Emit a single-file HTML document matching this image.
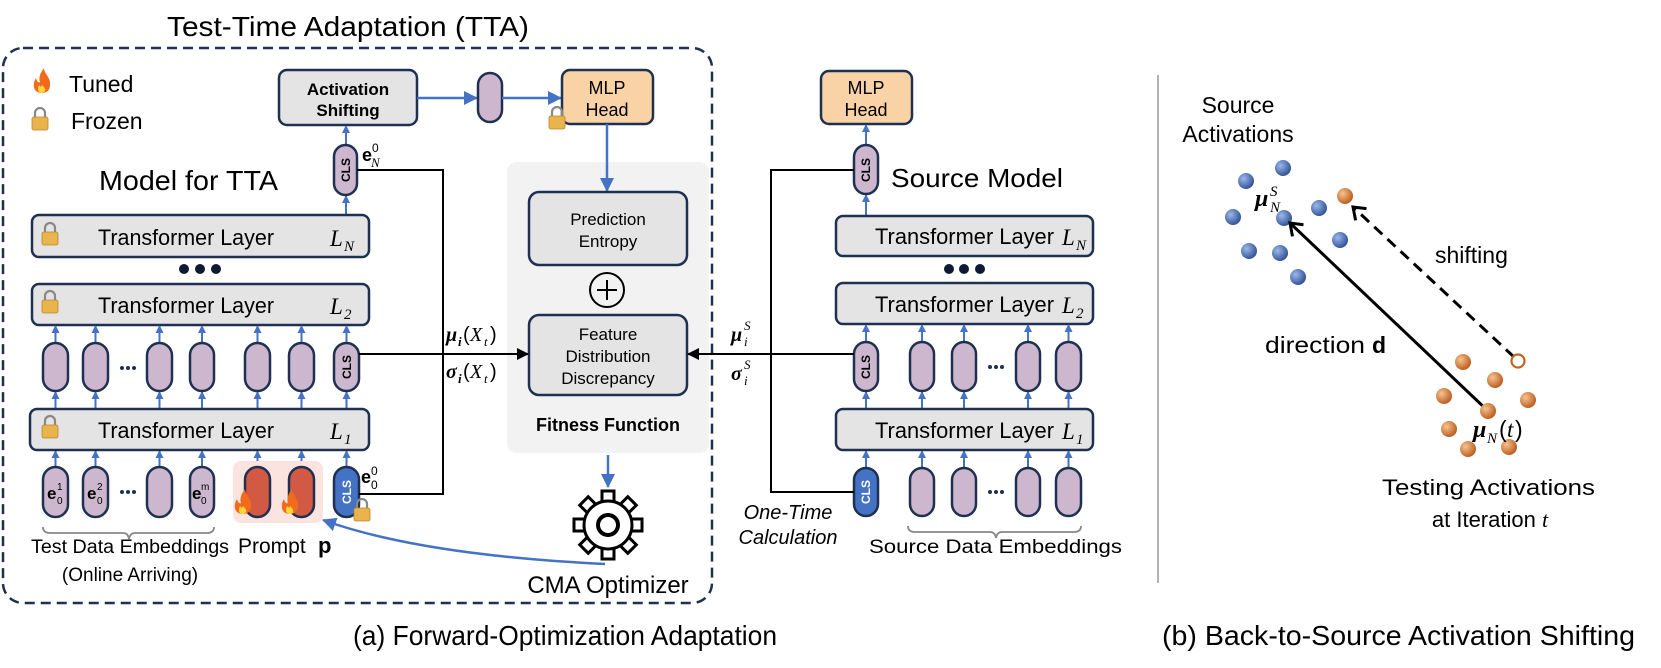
<!DOCTYPE html>
<html><head><meta charset="utf-8"><style>
html,body{margin:0;padding:0;background:#fff;}
svg{display:block;}
text{font-family:"Liberation Sans",sans-serif;fill:#000;}
.m{font-family:"Liberation Serif",serif;font-style:italic;}
.mb{font-family:"Liberation Serif",serif;font-style:italic;font-weight:bold;}
</style></head><body>
<svg width="1661" height="668" viewBox="0 0 1661 668" xmlns="http://www.w3.org/2000/svg">
<defs>
<marker id="ab" markerWidth="8" markerHeight="8" refX="7" refY="4" orient="auto" markerUnits="userSpaceOnUse"><path d="M0,0 L8,4 L0,8 z" fill="#4472c4"/></marker>
<marker id="abl" markerWidth="14" markerHeight="14" refX="13" refY="7" orient="auto" markerUnits="userSpaceOnUse"><path d="M0,0 L14,7 L0,14 z" fill="#4472c4"/></marker>
<marker id="ak" markerWidth="12" markerHeight="12" refX="11" refY="6" orient="auto" markerUnits="userSpaceOnUse"><path d="M0,0 L12,6 L0,12 z" fill="#000"/></marker>
<marker id="av" markerWidth="16" markerHeight="18" refX="12" refY="9" orient="auto" markerUnits="userSpaceOnUse"><path d="M1,1 L12,9 L1,17" fill="none" stroke="#000" stroke-width="3"/></marker>
<g id="lock"><path d="M-5,-2 V-6 A5,5 0 0 1 5,-6 V-2" fill="none" stroke="#888" stroke-width="2.2"/><rect x="-8" y="-2" width="16" height="13" rx="2" fill="#e9b44c" stroke="#b8862a" stroke-width="0.8"/></g>
<g id="flame"><path d="M0,12 C-9,12 -10,3 -6,-3 C-5,1 -3,2 -2,1 C-4,-5 0,-10 2,-13 C2,-7 9,-4 8,4 C8,9 5,12 0,12 z" fill="#f26b1d"/><path d="M0,12 C-4,12 -5,8 -3,4 C-2,6 0,6 0,4 C2,6 4,8 3,10 C2,12 1,12 0,12z" fill="#ffd43b"/></g>
<radialGradient id="gb" cx="0.35" cy="0.35" r="0.7"><stop offset="0" stop-color="#9bb8ee"/><stop offset="1" stop-color="#2f4f8f"/></radialGradient>
<radialGradient id="go" cx="0.35" cy="0.35" r="0.7"><stop offset="0" stop-color="#f7c38f"/><stop offset="1" stop-color="#b85a1c"/></radialGradient>
</defs>

<text x="167" y="36" font-size="28" textLength="362" lengthAdjust="spacingAndGlyphs">Test-Time Adaptation (TTA)</text>

<rect x="507" y="162" width="202" height="291" rx="10" fill="#f2f2f2"/>
<rect x="3" y="48" width="709" height="555" rx="20" fill="none" stroke="#1f3050" stroke-width="2.5" stroke-dasharray="10,6"/>

<use href="#flame" x="42" y="81"/>
<text x="69" y="92" font-size="23">Tuned</text>
<use href="#lock" x="40" y="119"/>
<text x="71" y="129" font-size="23">Frozen</text>

<rect x="279" y="70" width="138" height="55" rx="8" fill="#e4e4e4" stroke="#1f3050" stroke-width="2.5"/>
<text x="348" y="95" font-size="17" font-weight="bold" text-anchor="middle">Activation</text>
<text x="348" y="116" font-size="17" font-weight="bold" text-anchor="middle">Shifting</text>
<line x1="417" y1="98" x2="477" y2="98" stroke="#4472c4" stroke-width="2.5" marker-end="url(#abl)"/>
<rect x="478" y="73" width="24" height="49" rx="12" fill="#cdb7cf" stroke="#1f3050" stroke-width="2.5"/>
<line x1="502" y1="98" x2="561" y2="98" stroke="#4472c4" stroke-width="2.5" marker-end="url(#abl)"/>
<rect x="562" y="70" width="91" height="54" rx="8" fill="#f9d2a5" stroke="#1f3050" stroke-width="2.5"/>
<text x="607" y="94" font-size="18" text-anchor="middle">MLP</text>
<text x="607" y="116" font-size="18" text-anchor="middle">Head</text>
<use href="#lock" x="557" y="118"/>
<line x1="607" y1="124" x2="607" y2="191" stroke="#4472c4" stroke-width="2.5" marker-end="url(#abl)"/>

<rect x="529" y="192" width="158" height="73" rx="10" fill="#e4e4e4" stroke="#1f3050" stroke-width="2.5"/>
<text x="608" y="225" font-size="17" text-anchor="middle">Prediction</text>
<text x="608" y="247" font-size="17" text-anchor="middle">Entropy</text>
<circle cx="607" cy="290" r="17" fill="none" stroke="#000" stroke-width="2"/>
<line x1="597" y1="290" x2="617" y2="290" stroke="#000" stroke-width="2"/><line x1="607" y1="280" x2="607" y2="300" stroke="#000" stroke-width="2"/>
<rect x="529" y="315" width="158" height="80" rx="10" fill="#e4e4e4" stroke="#1f3050" stroke-width="2.5"/>
<text x="608" y="340" font-size="17" text-anchor="middle">Feature</text>
<text x="608" y="362" font-size="17" text-anchor="middle">Distribution</text>
<text x="608" y="384" font-size="17" text-anchor="middle">Discrepancy</text>
<text x="608" y="431" font-size="18" font-weight="bold" text-anchor="middle">Fitness Function</text>
<line x1="608" y1="455" x2="608" y2="487" stroke="#4472c4" stroke-width="2.5" marker-end="url(#abl)"/>

<g transform="translate(608,525)">
<g fill="#fff" stroke="#000" stroke-width="3">
<rect x="-6" y="-34" width="12" height="14" transform="rotate(0)"/>
<rect x="-6" y="-34" width="12" height="14" transform="rotate(45)"/>
<rect x="-6" y="-34" width="12" height="14" transform="rotate(90)"/>
<rect x="-6" y="-34" width="12" height="14" transform="rotate(135)"/>
<rect x="-6" y="-34" width="12" height="14" transform="rotate(180)"/>
<rect x="-6" y="-34" width="12" height="14" transform="rotate(225)"/>
<rect x="-6" y="-34" width="12" height="14" transform="rotate(270)"/>
<rect x="-6" y="-34" width="12" height="14" transform="rotate(315)"/>
</g>
<circle r="24" fill="#fff" stroke="#000" stroke-width="3"/>
<circle r="10" fill="none" stroke="#000" stroke-width="4"/>
</g>
<text x="608" y="593" font-size="24" text-anchor="middle">CMA Optimizer</text>
<path d="M605,564 Q420,555 323,520" fill="none" stroke="#4472c4" stroke-width="2.5" marker-end="url(#abl)"/>

<text x="99" y="190" font-size="28" textLength="179" lengthAdjust="spacingAndGlyphs">Model for TTA</text>
<line x1="346" y1="215" x2="346" y2="196" stroke="#4472c4" stroke-width="2" marker-end="url(#ab)"/>
<line x1="346" y1="145" x2="346" y2="126" stroke="#4472c4" stroke-width="2" marker-end="url(#ab)"/>
<rect x="334" y="145" width="23" height="50" rx="11.5" fill="#cdb7cf" stroke="#1f3050" stroke-width="2.5"/>
<text x="0" y="0" font-size="12" font-weight="bold" text-anchor="middle" transform="translate(350,170) rotate(-90)">CLS</text>
<text x="362" y="161" font-family="Liberation Serif" font-weight="bold" font-size="18">e</text><text x="372" y="152" font-family="Liberation Serif" font-size="12">0</text><text x="371" y="167" class="m" font-size="13">N</text>

<rect x="32" y="215" width="337" height="42" rx="7" fill="#e4e4e4" stroke="#1f3050" stroke-width="2.5"/>
<use href="#lock" x="50" y="234"/>
<text x="98" y="245" font-size="22" textLength="176" lengthAdjust="spacingAndGlyphs">Transformer Layer</text>
<text x="330" y="246" class="m" font-size="23">L</text><text x="344" y="251" class="m" font-size="15">N</text>
<circle cx="184" cy="269" r="5" fill="#0d1a33"/><circle cx="200" cy="269" r="5" fill="#0d1a33"/><circle cx="216" cy="269" r="5" fill="#0d1a33"/>
<rect x="32" y="284" width="337" height="41" rx="7" fill="#e4e4e4" stroke="#1f3050" stroke-width="2.5"/>
<use href="#lock" x="50" y="302"/>
<text x="98" y="313" font-size="22" textLength="176" lengthAdjust="spacingAndGlyphs">Transformer Layer</text>
<text x="330" y="314" class="m" font-size="23">L</text><text x="344" y="319" class="m" font-size="15">2</text>

<g stroke="#4472c4" stroke-width="2">
<line x1="55.5" y1="343" x2="55.5" y2="326" marker-end="url(#ab)"/><line x1="95.5" y1="343" x2="95.5" y2="326" marker-end="url(#ab)"/><line x1="159.5" y1="343" x2="159.5" y2="326" marker-end="url(#ab)"/><line x1="202" y1="343" x2="202" y2="326" marker-end="url(#ab)"/><line x1="257.5" y1="343" x2="257.5" y2="326" marker-end="url(#ab)"/><line x1="301.5" y1="343" x2="301.5" y2="326" marker-end="url(#ab)"/><line x1="346.5" y1="343" x2="346.5" y2="326" marker-end="url(#ab)"/>
<line x1="55.5" y1="409" x2="55.5" y2="392" marker-end="url(#ab)"/><line x1="95.5" y1="409" x2="95.5" y2="392" marker-end="url(#ab)"/><line x1="159.5" y1="409" x2="159.5" y2="392" marker-end="url(#ab)"/><line x1="202" y1="409" x2="202" y2="392" marker-end="url(#ab)"/><line x1="257.5" y1="409" x2="257.5" y2="392" marker-end="url(#ab)"/><line x1="301.5" y1="409" x2="301.5" y2="392" marker-end="url(#ab)"/><line x1="346.5" y1="409" x2="346.5" y2="392" marker-end="url(#ab)"/>
<line x1="55.5" y1="467" x2="55.5" y2="451" marker-end="url(#ab)"/><line x1="95.5" y1="467" x2="95.5" y2="451" marker-end="url(#ab)"/><line x1="159.5" y1="467" x2="159.5" y2="451" marker-end="url(#ab)"/><line x1="202" y1="467" x2="202" y2="451" marker-end="url(#ab)"/><line x1="257.5" y1="467" x2="257.5" y2="451" marker-end="url(#ab)"/><line x1="301.5" y1="467" x2="301.5" y2="451" marker-end="url(#ab)"/><line x1="346.5" y1="467" x2="346.5" y2="451" marker-end="url(#ab)"/>
</g>
<g fill="#cdb7cf" stroke="#1f3050" stroke-width="2.5">
<rect x="43" y="343" width="25" height="48" rx="12.5"/><rect x="83" y="343" width="25" height="48" rx="12.5"/><rect x="147" y="343" width="25" height="48" rx="12.5"/><rect x="190" y="343" width="24" height="48" rx="12"/><rect x="245" y="343" width="25" height="48" rx="12.5"/><rect x="289" y="343" width="25" height="48" rx="12.5"/><rect x="334" y="343" width="25" height="48" rx="12.5"/>
</g>
<text x="0" y="0" font-size="12" font-weight="bold" text-anchor="middle" transform="translate(351,367) rotate(-90)">CLS</text>
<circle cx="122" cy="368" r="2" fill="#1f3050"/><circle cx="128" cy="368" r="2" fill="#1f3050"/><circle cx="134" cy="368" r="2" fill="#1f3050"/>

<rect x="30" y="409" width="339" height="41" rx="7" fill="#e4e4e4" stroke="#1f3050" stroke-width="2.5"/>
<use href="#lock" x="50" y="427"/>
<text x="98" y="438" font-size="22" textLength="176" lengthAdjust="spacingAndGlyphs">Transformer Layer</text>
<text x="330" y="439" class="m" font-size="23">L</text><text x="344" y="444" class="m" font-size="15">1</text>

<rect x="233" y="461" width="90" height="62" rx="8" fill="#fbe3e0"/>
<g fill="#cdb7cf" stroke="#1f3050" stroke-width="2.5">
<rect x="43" y="467" width="25" height="50" rx="12.5"/><rect x="83" y="467" width="25" height="50" rx="12.5"/><rect x="147" y="467" width="25" height="50" rx="12.5"/><rect x="190" y="467" width="24" height="50" rx="12"/>
</g>
<rect x="245" y="467" width="25" height="50" rx="12.5" fill="#d25a44" stroke="#1f3050" stroke-width="2.5"/>
<rect x="289" y="467" width="25" height="50" rx="12.5" fill="#d25a44" stroke="#1f3050" stroke-width="2.5"/>
<rect x="334" y="467" width="25" height="50" rx="12.5" fill="#4472c4" stroke="#1f3050" stroke-width="2.5"/>
<text x="0" y="0" font-size="12" font-weight="bold" style="fill:#fff" text-anchor="middle" transform="translate(351,492) rotate(-90)">CLS</text>
<use href="#flame" x="243" y="502"/><use href="#flame" x="290" y="502"/>
<use href="#lock" x="362" y="510"/>
<g font-family="Liberation Serif" font-weight="bold" font-size="17"><text x="47" y="499">e</text><text x="87" y="499">e</text><text x="192" y="499">e</text></g>
<g font-family="Liberation Serif" font-size="10"><text x="57" y="490">1</text><text x="57" y="504">0</text><text x="97" y="490">2</text><text x="97" y="504">0</text><text x="201" y="490">m</text><text x="201" y="504">0</text></g>
<circle cx="122" cy="492" r="2" fill="#1f3050"/><circle cx="128" cy="492" r="2" fill="#1f3050"/><circle cx="134" cy="492" r="2" fill="#1f3050"/>
<text x="361" y="483" font-family="Liberation Serif" font-weight="bold" font-size="18">e</text><text x="371" y="475" font-family="Liberation Serif" font-size="12">0</text><text x="371" y="489" font-family="Liberation Serif" font-size="12">0</text>

<path d="M43,527 Q43,533 50,533 L123,533 Q128,533 129,539 Q130,533 135,533 L207,533 Q214,533 214,527" fill="none" stroke="#888" stroke-width="1.8"/>
<text x="31" y="553" font-size="19" textLength="198" lengthAdjust="spacingAndGlyphs">Test Data Embeddings</text>
<text x="130" y="581" font-size="19" text-anchor="middle">(Online Arriving)</text>
<text x="238" y="553" font-size="21">Prompt</text><text x="318" y="553" font-family="Liberation Serif" font-weight="bold" font-size="22">p</text>

<polyline points="357,170 443,170 443,494 359,494" fill="none" stroke="#000" stroke-width="2"/>
<line x1="359" y1="354" x2="528" y2="354" stroke="#000" stroke-width="2" marker-end="url(#ak)"/>
<text x="446" y="341" class="mb" font-size="20">μ</text><text x="458" y="346" class="mb" font-size="13">i</text><text x="463" y="341" font-family="Liberation Serif" font-size="20">(</text><text x="470" y="341" class="m" font-size="20">X</text><text x="484" y="346" class="m" font-size="13">t</text><text x="490" y="341" font-family="Liberation Serif" font-size="20">)</text>
<text x="446" y="378" class="mb" font-size="20">σ</text><text x="458" y="383" class="mb" font-size="13">i</text><text x="463" y="378" font-family="Liberation Serif" font-size="20">(</text><text x="470" y="378" class="m" font-size="20">X</text><text x="484" y="383" class="m" font-size="13">t</text><text x="490" y="378" font-family="Liberation Serif" font-size="20">)</text>

<text x="353" y="645" font-size="28" textLength="424" lengthAdjust="spacingAndGlyphs">(a) Forward-Optimization Adaptation</text>

<rect x="821" y="71" width="91" height="53" rx="8" fill="#f9d2a5" stroke="#1f3050" stroke-width="2.5"/>
<text x="866" y="94" font-size="18" text-anchor="middle">MLP</text>
<text x="866" y="116" font-size="18" text-anchor="middle">Head</text>
<line x1="866" y1="145" x2="866" y2="125" stroke="#4472c4" stroke-width="2" marker-end="url(#ab)"/>
<line x1="866" y1="216" x2="866" y2="195" stroke="#4472c4" stroke-width="2" marker-end="url(#ab)"/>
<rect x="854" y="145" width="24" height="49" rx="12" fill="#cdb7cf" stroke="#1f3050" stroke-width="2.5"/>
<text x="0" y="0" font-size="12" font-weight="bold" text-anchor="middle" transform="translate(870,170) rotate(-90)">CLS</text>
<text x="891" y="187" font-size="26" textLength="172" lengthAdjust="spacingAndGlyphs">Source Model</text>
<rect x="836" y="216" width="257" height="40" rx="7" fill="#e4e4e4" stroke="#1f3050" stroke-width="2.5"/>
<text x="875" y="244" font-size="22" textLength="179" lengthAdjust="spacingAndGlyphs">Transformer Layer</text><text x="1062" y="245" class="m" font-size="23">L</text><text x="1076" y="250" class="m" font-size="15">N</text>
<circle cx="949" cy="269" r="5" fill="#0d1a33"/><circle cx="964" cy="269" r="5" fill="#0d1a33"/><circle cx="980" cy="269" r="5" fill="#0d1a33"/>
<rect x="836" y="283" width="257" height="41" rx="7" fill="#e4e4e4" stroke="#1f3050" stroke-width="2.5"/>
<text x="875" y="312" font-size="22" textLength="179" lengthAdjust="spacingAndGlyphs">Transformer Layer</text><text x="1062" y="313" class="m" font-size="23">L</text><text x="1076" y="318" class="m" font-size="15">2</text>
<g stroke="#4472c4" stroke-width="2">
<line x1="866" y1="342" x2="866" y2="325" marker-end="url(#ab)"/><line x1="922" y1="342" x2="922" y2="325" marker-end="url(#ab)"/><line x1="964" y1="342" x2="964" y2="325" marker-end="url(#ab)"/><line x1="1028" y1="342" x2="1028" y2="325" marker-end="url(#ab)"/><line x1="1068.5" y1="342" x2="1068.5" y2="325" marker-end="url(#ab)"/>
<line x1="866" y1="409" x2="866" y2="392" marker-end="url(#ab)"/><line x1="922" y1="409" x2="922" y2="392" marker-end="url(#ab)"/><line x1="964" y1="409" x2="964" y2="392" marker-end="url(#ab)"/><line x1="1028" y1="409" x2="1028" y2="392" marker-end="url(#ab)"/><line x1="1068.5" y1="409" x2="1068.5" y2="392" marker-end="url(#ab)"/>
<line x1="866" y1="468" x2="866" y2="451" marker-end="url(#ab)"/><line x1="922" y1="468" x2="922" y2="451" marker-end="url(#ab)"/><line x1="964" y1="468" x2="964" y2="451" marker-end="url(#ab)"/><line x1="1028" y1="468" x2="1028" y2="451" marker-end="url(#ab)"/><line x1="1068.5" y1="468" x2="1068.5" y2="451" marker-end="url(#ab)"/>
</g>
<g fill="#cdb7cf" stroke="#1f3050" stroke-width="2.5">
<rect x="854" y="342" width="24" height="49" rx="12"/><rect x="910" y="342" width="24" height="49" rx="12"/><rect x="952" y="342" width="24" height="49" rx="12"/><rect x="1016" y="342" width="24" height="49" rx="12"/><rect x="1056" y="342" width="25" height="49" rx="12.5"/>
<rect x="910" y="468" width="24" height="48" rx="12"/><rect x="952" y="468" width="24" height="48" rx="12"/><rect x="1016" y="468" width="24" height="48" rx="12"/><rect x="1056" y="468" width="25" height="48" rx="12.5"/>
</g>
<text x="0" y="0" font-size="12" font-weight="bold" text-anchor="middle" transform="translate(870,367) rotate(-90)">CLS</text>
<circle cx="990" cy="367" r="2" fill="#1f3050"/><circle cx="996" cy="367" r="2" fill="#1f3050"/><circle cx="1002" cy="367" r="2" fill="#1f3050"/>
<circle cx="990" cy="492" r="2" fill="#1f3050"/><circle cx="996" cy="492" r="2" fill="#1f3050"/><circle cx="1002" cy="492" r="2" fill="#1f3050"/>
<rect x="836" y="409" width="257" height="41" rx="7" fill="#e4e4e4" stroke="#1f3050" stroke-width="2.5"/>
<text x="875" y="438" font-size="22" textLength="179" lengthAdjust="spacingAndGlyphs">Transformer Layer</text><text x="1062" y="439" class="m" font-size="23">L</text><text x="1076" y="444" class="m" font-size="15">1</text>
<rect x="854" y="468" width="24" height="48" rx="12" fill="#4472c4" stroke="#1f3050" stroke-width="2.5"/>
<text x="0" y="0" font-size="12" font-weight="bold" style="fill:#fff" text-anchor="middle" transform="translate(870,492) rotate(-90)">CLS</text>
<path d="M908,526 Q908,532 915,532 L990,532 Q995,532 996,538 Q997,532 1002,532 L1074,532 Q1081,532 1081,526" fill="none" stroke="#888" stroke-width="1.8"/>
<text x="869" y="553" font-size="19" textLength="253" lengthAdjust="spacingAndGlyphs">Source Data Embeddings</text>
<text x="788" y="519" font-size="20" font-style="italic" text-anchor="middle">One-Time</text>
<text x="788" y="544" font-size="20" font-style="italic" text-anchor="middle">Calculation</text>
<polyline points="854,170 771,170 771,492 854,492" fill="none" stroke="#000" stroke-width="2"/>
<line x1="854" y1="354" x2="688" y2="354" stroke="#000" stroke-width="2" marker-end="url(#ak)"/>
<text x="731" y="341" class="mb" font-size="20">μ</text><text x="744" y="330" class="m" font-size="13">S</text><text x="744" y="346" class="m" font-size="13">i</text>
<text x="731" y="380" class="mb" font-size="20">σ</text><text x="744" y="369" class="m" font-size="13">S</text><text x="744" y="385" class="m" font-size="13">i</text>

<line x1="1158" y1="75" x2="1158" y2="583" stroke="#999" stroke-width="1.5"/>

<text x="1238" y="113" font-size="23" text-anchor="middle">Source</text>
<text x="1238" y="142" font-size="23" text-anchor="middle">Activations</text>
<g fill="url(#gb)">
<circle cx="1283" cy="168" r="8"/><circle cx="1246" cy="181" r="8"/><circle cx="1233" cy="217" r="8"/><circle cx="1284" cy="218" r="8"/><circle cx="1319" cy="208" r="8"/><circle cx="1340" cy="240" r="8"/><circle cx="1249" cy="251" r="8"/><circle cx="1280" cy="253" r="8"/><circle cx="1298" cy="277" r="8"/>
</g>
<text x="1255" y="206" class="mb" font-size="24">μ</text><text x="1270" y="196" class="m" font-size="15">S</text><text x="1270" y="212" class="m" font-size="15">N</text>
<circle cx="1345" cy="196" r="8" fill="url(#go)"/>
<line x1="1514" y1="357" x2="1353" y2="207" stroke="#000" stroke-width="3" stroke-dasharray="11,7" marker-end="url(#av)"/>
<circle cx="1518" cy="361" r="6.5" fill="#fff" stroke="#c0651e" stroke-width="2.2"/>
<text x="1435" y="263" font-size="23">shifting</text>
<line x1="1488" y1="411" x2="1290" y2="223" stroke="#000" stroke-width="3" marker-end="url(#av)"/>
<text x="1265" y="353" font-size="23" textLength="100" lengthAdjust="spacingAndGlyphs">direction</text><text x="1372" y="353" font-family="Liberation Serif" font-weight="bold" font-size="23">d</text>
<g fill="url(#go)">
<circle cx="1463" cy="362" r="8"/><circle cx="1495" cy="380" r="8"/><circle cx="1444" cy="396" r="8"/><circle cx="1528" cy="400" r="8"/><circle cx="1488" cy="411" r="8"/><circle cx="1449" cy="429" r="8"/><circle cx="1468" cy="449" r="8"/><circle cx="1509" cy="447" r="8"/>
</g>
<text x="1473" y="437" class="mb" font-size="24">μ</text><text x="1487" y="443" class="m" font-size="15">N</text><text x="1499" y="437" font-family="Liberation Serif" font-size="23">(</text><text x="1507" y="437" class="m" font-size="23">t</text><text x="1515" y="437" font-family="Liberation Serif" font-size="23">)</text>
<text x="1382" y="495" font-size="22" textLength="213" lengthAdjust="spacingAndGlyphs">Testing Activations</text>
<text x="1490" y="527" font-size="22" text-anchor="middle">at Iteration <tspan font-family="Liberation Serif" font-style="italic">t</tspan></text>
<text x="1162" y="645" font-size="28" textLength="473" lengthAdjust="spacingAndGlyphs">(b) Back-to-Source Activation Shifting</text>
</svg>
</body></html>
